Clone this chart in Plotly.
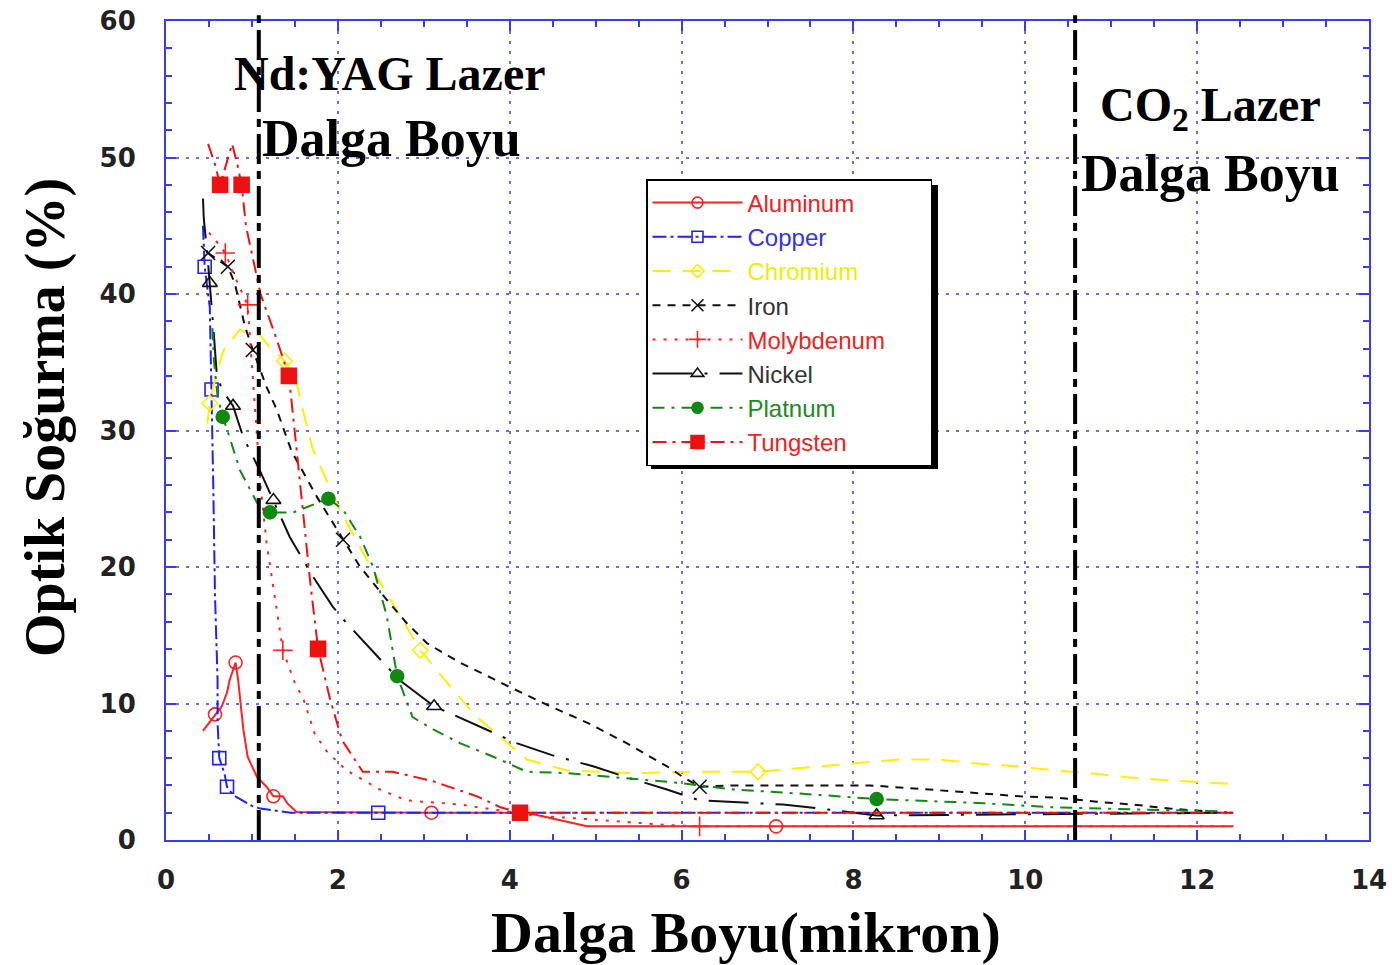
import plotly.graph_objects as go

# ---------------- data ----------------
x_ticks = [0, 2, 4, 6, 8, 10, 12, 14]
y_ticks = [0, 10, 20, 30, 40, 50, 60]
laser_wavelengths = [1.08, 10.58]   # Nd:YAG and CO2 markers

al_x = [0.43, 0.5, 0.57, 0.65, 0.71, 0.74, 0.81, 0.84, 0.9, 0.95, 1.06, 1.17, 1.25, 1.36, 1.41, 1.52, 3.09, 4.2, 4.9, 7.1, 12.42]
al_y = [8.0, 8.6, 9.2, 9.8, 10.8, 11.7, 13.0, 11.7, 8.1, 6.1, 4.6, 3.9, 3.2, 3.2, 2.7, 2.05, 2.0, 2.0, 1.0, 1.0, 1.0]
al_mx = [0.57, 0.81, 1.25, 3.09, 7.1]
al_my = [9.2, 13.0, 3.2, 2.0, 1.0]

cu_x = [0.43, 0.45, 0.51, 0.53, 0.55, 0.57, 0.6, 0.6, 0.62, 0.68, 0.71, 0.78, 1.0, 1.1, 1.45, 2.47, 12.42]
cu_y = [45.0, 42.0, 39.0, 33.0, 26.0, 18.0, 11.7, 8.6, 6.0, 4.9, 3.9, 3.3, 2.5, 2.3, 2.0, 2.0, 2.0]
cu_mx = [0.45, 0.53, 0.62, 0.71, 2.47]
cu_my = [42.0, 33.0, 6.0, 3.9, 2.0]

cr_x = [0.48, 0.51, 0.58, 0.67, 0.86, 0.95, 1.09, 1.21, 1.38, 1.52, 1.6, 1.71, 1.83, 2.02, 2.34, 2.61, 2.96, 3.34, 3.62, 4.2, 4.67, 5.43, 6.21, 6.89, 7.76, 8.54, 9.0, 9.44, 9.9, 10.33, 10.75, 11.18, 11.6, 12.07, 12.42]
cr_y = [30.5, 32.0, 34.0, 35.9, 37.4, 37.1, 37.0, 36.1, 35.1, 33.5, 31.3, 28.6, 26.9, 24.2, 20.5, 17.6, 13.9, 11.0, 9.0, 5.9, 5.1, 4.9, 5.0, 5.0, 5.5, 5.9, 5.9, 5.6, 5.4, 5.1, 4.9, 4.6, 4.4, 4.2, 4.1]
cr_mx = [0.51, 1.38, 2.96, 6.89]
cr_my = [32.0, 35.1, 13.9, 5.0]

fe_x = [0.49, 0.6, 0.72, 0.8, 0.86, 0.92, 1.01, 1.17, 1.29, 1.46, 1.76, 2.06, 2.26, 2.57, 2.8, 3.04, 3.42, 3.81, 4.0, 4.47, 4.9, 5.36, 5.83, 6.02, 6.21, 6.6, 8.19, 8.66, 9.09, 9.51, 9.94, 10.37, 10.83, 11.25, 11.68, 12.35]
fe_y = [43.0, 42.5, 42.0, 40.8, 39.2, 37.6, 35.9, 33.2, 31.5, 28.5, 25.1, 22.0, 20.0, 17.6, 15.9, 14.4, 13.0, 11.8, 11.2, 9.8, 8.6, 7.1, 5.4, 4.6, 3.9, 4.0, 4.0, 3.8, 3.6, 3.4, 3.2, 3.1, 2.8, 2.6, 2.3, 2.0]
fe_mx = [0.49, 0.72, 1.01, 2.06, 6.21]
fe_my = [43.0, 42.0, 35.9, 22.0, 3.9]

mo_x = [0.5, 0.57, 0.69, 0.82, 0.95, 1.0, 1.04, 1.1, 1.17, 1.27, 1.36, 1.5, 1.6, 1.73, 1.87, 2.1, 2.49, 2.8, 3.42, 3.85, 4.27, 4.97, 5.83, 6.21, 12.42]
mo_y = [44.5, 44.0, 43.0, 41.0, 39.2, 34.7, 30.8, 26.0, 21.8, 17.8, 13.9, 11.5, 10.3, 7.8, 6.5, 5.1, 3.7, 2.9, 2.6, 2.2, 1.8, 1.5, 1.1, 1.0, 1.0]
mo_mx = [0.69, 0.95, 1.36, 6.21]
mo_my = [43.0, 39.2, 13.9, 1.0]

ni_x = [0.43, 0.44, 0.48, 0.51, 0.55, 0.59, 0.65, 0.78, 0.9, 1.09, 1.25, 1.44, 1.71, 1.94, 2.1, 2.37, 2.72, 3.12, 3.62, 4.08, 4.5, 4.97, 5.36, 5.83, 6.21, 6.76, 7.18, 7.61, 8.27, 12.42]
ni_y = [47.0, 45.5, 43.0, 40.8, 37.6, 34.2, 33.0, 31.8, 29.5, 27.1, 24.9, 22.2, 19.3, 17.1, 15.9, 14.1, 11.7, 9.8, 8.4, 7.1, 6.2, 5.4, 4.6, 3.7, 2.9, 2.7, 2.6, 2.3, 1.8, 2.0]
ni_mx = [0.51, 0.78, 1.25, 3.12, 8.27]
ni_my = [40.8, 31.8, 24.9, 9.8, 1.8]

pt_x = [0.54, 0.56, 0.6, 0.66, 0.74, 0.86, 1.06, 1.21, 1.48, 1.76, 1.89, 2.06, 2.26, 2.41, 2.57, 2.69, 2.87, 3.11, 3.42, 3.81, 4.2, 4.67, 5.43, 5.95, 6.6, 7.38, 8.27, 9.51, 10.29, 11.07, 12.23, 12.42]
pt_y = [37.5, 35.0, 32.5, 31.0, 29.5, 27.1, 24.7, 24.0, 24.0, 24.7, 25.0, 24.2, 22.2, 20.0, 16.4, 12.0, 9.0, 8.1, 7.1, 6.1, 5.0, 4.9, 4.5, 4.2, 3.7, 3.4, 3.0, 2.7, 2.4, 2.3, 2.1, 2.0]
pt_mx = [0.66, 1.21, 1.89, 2.69, 8.27]
pt_my = [31.0, 24.0, 25.0, 12.0, 3.0]

w_x = [0.49, 0.57, 0.63, 0.7, 0.77, 0.83, 0.88, 0.93, 1.0, 1.1, 1.27, 1.43, 1.52, 1.6, 1.68, 1.77, 1.91, 2.05, 2.29, 2.64, 3.11, 3.62, 3.89, 4.12, 12.42]
w_y = [51.0, 49.5, 48.0, 49.5, 51.0, 49.5, 48.0, 45.0, 43.0, 40.0, 37.0, 34.0, 28.6, 23.7, 18.8, 14.0, 10.3, 7.3, 5.0, 5.0, 4.3, 3.2, 2.4, 2.0, 2.0]
w_mx = [0.63, 0.88, 1.43, 1.77, 4.12]
w_my = [48.0, 48.0, 34.0, 14.0, 2.0]

series = [
    # name, text colour, line colour, dash, line x, line y, marker x, marker y, symbol, marker size
    ("Aluminum", "#ee2222", "#ff2020", "solid", al_x, al_y, al_mx, al_my, "circle-open", 13),
    ("Copper", "#3333ee", "#2020ff", "14px,4px,3px,4px", cu_x, cu_y, cu_mx, cu_my, "square-open", 13),
    ("Chromium", "#eeee00", "#ffee00", "18px,12px", cr_x, cr_y, cr_mx, cr_my, "diamond-open", 12),
    ("Iron", "#333333", "#111111", "8px,7px", fe_x, fe_y, fe_mx, fe_my, "x-thin-open", 14),
    ("Molybdenum", "#ee2222", "#ff2020", "3px,8px", mo_x, mo_y, mo_mx, mo_my, "cross-thin-open", 14),
    ("Nickel", "#333333", "#111111", "40px,12px,3px,12px", ni_x, ni_y, ni_mx, ni_my, "triangle-up-open", 13),
    ("Platnum", "#228822", "#118811", "12px,7px,3px,7px", pt_x, pt_y, pt_mx, pt_my, "circle", 13),
    ("Tungsten", "#ee2222", "#ee1111", "14px,6px,3px,6px", w_x, w_y, w_mx, w_my, "square", 15),
]
longest = max(len(s[0]) for s in series)

fig = go.Figure()
for name, tcol, lcol, dash, lx, ly, mx, my, sym, ms in series:
    fig.add_trace(go.Scatter(x=lx, y=ly, mode="lines", showlegend=False,
                             line=dict(color=lcol, width=2, dash=dash), legendgroup=name,
                             hoverinfo="skip"))
    fig.add_trace(go.Scatter(x=mx, y=my, mode="markers", showlegend=False, legendgroup=name,
                             marker=dict(symbol=sym, size=ms, color=lcol,
                                         line=dict(color=lcol, width=1.6))))
    pad = "\u00a0" * 6 if len(name) == longest else ""
    fig.add_trace(go.Scatter(x=[None], y=[None], mode="lines+markers", legendgroup=name,
                             name=f'<span style="color:{tcol}">{name}</span>{pad}',
                             line=dict(color=lcol, width=2, dash=dash),
                             marker=dict(symbol=sym, size=ms - 2, color=lcol,
                                         line=dict(color=lcol, width=1.6))))

# laser wavelength lines
for lw in laser_wavelengths:
    fig.add_shape(type="line", xref="x", yref="paper", x0=lw, x1=lw, y0=0, y1=1.007,
                  line=dict(color="black", width=4, dash="30px,7px,8px,7px"), layer="above")

L, R, T, B = 166, 23, 21, 125
W, H = 1392, 965
PW, PH = W - L - R, H - T - B


def px(xp):
    return (xp - L) / PW


def py(yp):
    return (H - B - yp) / PH


# legend shadow
fig.add_shape(type="rect", xref="paper", yref="paper", x0=px(651), x1=px(938), y0=py(469), y1=py(185),
              fillcolor="black", line=dict(width=0), layer="above")

serif = "Liberation Serif"
ann = [
    ("Nd:YAG Lazer", 390, 73, 48),
    ("Dalga Boyu", 391, 138, 52),
    ("CO<sub>2</sub> Lazer", 1210, 108, 48),
    ("Dalga Boyu", 1210, 173, 52),
]
for txt, ax_, ay_, fs in ann:
    fig.add_annotation(text=f"<b>{txt}</b>", xref="paper", yref="paper", x=px(ax_), y=py(ay_),
                       showarrow=False, xanchor="center", yanchor="middle",
                       font=dict(family=serif, size=fs, color="black"))

fig.add_annotation(text="<b>Dalga Boyu(mikron)</b>", xref="paper", yref="paper", x=px(746), y=py(932),
                   showarrow=False, xanchor="center", yanchor="middle",
                   font=dict(family=serif, size=58, color="black"))
fig.add_annotation(text="<b>Optik Soğurma (%)</b>", xref="paper", yref="paper", x=px(45), y=py(418),
                   showarrow=False, xanchor="center", yanchor="middle", textangle=-90,
                   font=dict(family=serif, size=56, color="black"))

axis_blue = "#3a3aee"
grid_blue = "#6a6af0"
tickfont = dict(family="DejaVu Sans", size=26, color="#222222", weight="bold")
common = dict(showline=True, linecolor=axis_blue, linewidth=2, mirror="ticks",
              ticks="inside", ticklen=10, tickwidth=2, tickcolor=axis_blue,
              showgrid=True, gridcolor=grid_blue, gridwidth=2, griddash="3px,7px",
              zeroline=False, tickfont=tickfont, automargin=False)

fig.update_xaxes(range=[0, 14], tickvals=x_ticks, ticktext=[str(v) for v in x_ticks],
                 minor=dict(ticks="inside", dtick=0.5, tick0=0, ticklen=6, tickwidth=2, tickcolor=axis_blue,
                            showgrid=False),
                 ticklabelstandoff=16, **common)
fig.update_yaxes(range=[0, 60], tickvals=y_ticks, ticktext=[str(v) for v in y_ticks],
                 minor=dict(ticks="inside", dtick=2, tick0=0, ticklen=6, tickwidth=2, tickcolor=axis_blue,
                            showgrid=False),
                 ticklabelstandoff=23, **common)

fig.update_layout(
    width=W, height=H,
    margin=dict(l=L, r=R, t=T, b=B, autoexpand=False),
    paper_bgcolor="white", plot_bgcolor="white",
    legend=dict(x=px(646), y=py(179), xanchor="left", yanchor="top",
                bgcolor="white", bordercolor="black", borderwidth=1.5,
                font=dict(family="Liberation Sans", size=24, color="#333"),
                itemwidth=90, tracegroupgap=0),
    showlegend=True,
)

fig.write_html("out.html", config={"displayModeBar": False},
               post_script="document.body.style.margin='0';document.body.style.overflow='hidden';")
